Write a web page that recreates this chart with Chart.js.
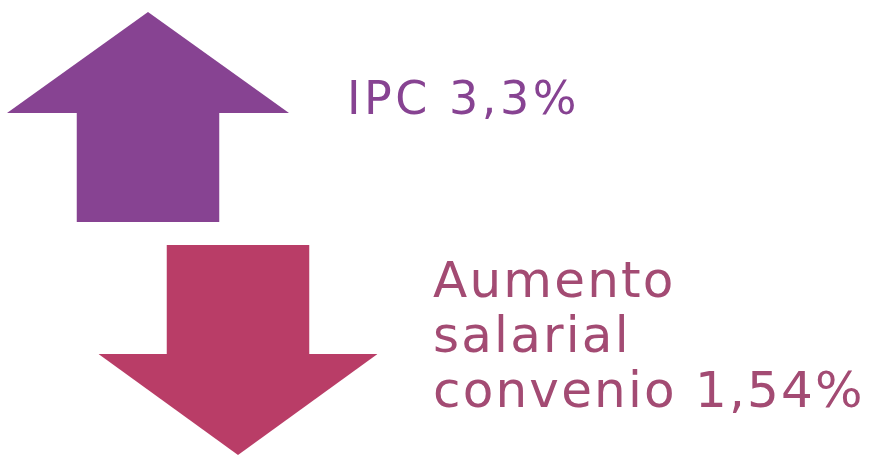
<!DOCTYPE html>
<html>
<head>
<meta charset="utf-8">
<script src="https://cdn.jsdelivr.net/npm/chart.js@4/dist/chart.umd.min.js"></script>
<style>
  html, body { margin: 0; padding: 0; background: #fff; }
  #wrap { width: 869px; height: 455px; position: relative; }
</style>
</head>
<body>
<div id="wrap"><canvas id="chart"></canvas></div>
<script>
// datos
const labels = ['IPC 3,3%', 'Aumento salarial convenio 1,54%'];
const labelLines = [['IPC 3,3%'], ['Aumento', 'salarial', 'convenio 1,54%']];
const values = [3.3, 1.54];
const directions = ['up', 'down'];
const arrowColors = ['#874392', '#b93d67'];
const textColors = ['#874392', '#a34b73'];

// posición de cada flecha (unidades de la escala = px del lienzo)
const arrowLayout = [
  { cx: 148, tip: 12, headBase: 113, end: 222, headHalf: 141, shaftHalf: 71.5 },
  { cx: 238, tip: 455, headBase: 354, end: 245, headHalf: 139.5, shaftHalf: 71.5 }
];
const textLayout = [
  { x: 347, baselines: [114], size: 46, spacing: 3.5 },
  { x: 433, baselines: [297, 352, 407], size: 50, spacing: 2.2 }
];

/**
 * Cada flecha = triángulo (cabeza) + rectángulo (cuerpo), rellenos hasta la base de la cabeza
 */
function arrowDatasets(i) {
  const a = arrowLayout[i];
  const common = {
    showLine: true,
    borderWidth: 0,
    pointRadius: 0,
    backgroundColor: arrowColors[i],
    borderColor: arrowColors[i],
    fill: { value: a.headBase },
    label: labels[i]
  };
  return [
    { ...common, data: [
      { x: a.cx - a.headHalf, y: a.headBase },
      { x: a.cx, y: a.tip },
      { x: a.cx + a.headHalf, y: a.headBase }
    ] },
    { ...common, data: [
      { x: a.cx - a.shaftHalf, y: a.end },
      { x: a.cx + a.shaftHalf, y: a.end }
    ] }
  ];
}

const labelPlugin = {
  id: 'labelPlugin',
  afterDraw(chart) {
    const { ctx, scales } = chart;
    labelLines.forEach((lines, i) => {
      const t = textLayout[i];
      ctx.save();
      ctx.fillStyle = textColors[i];
      ctx.font = t.size + 'px "DejaVu Sans"';
      ctx.letterSpacing = t.spacing + 'px';
      ctx.textBaseline = 'alphabetic';
      ctx.textAlign = 'left';
      lines.forEach((line, j) => {
        ctx.fillText(line, scales.x.getPixelForValue(t.x), scales.y.getPixelForValue(t.baselines[j]));
      });
      ctx.restore();
    });
  }
};

new Chart(document.getElementById('chart'), {
  type: 'scatter',
  data: {
    datasets: [...arrowDatasets(0), ...arrowDatasets(1)]
  },
  options: {
    responsive: true,
    maintainAspectRatio: false,
    animation: false,
    layout: { padding: 0 },
    plugins: {
      legend: { display: false },
      tooltip: { enabled: false }
    },
    scales: {
      x: { type: 'linear', min: 0, max: 869, display: false },
      y: { type: 'linear', min: 0, max: 455, reverse: true, display: false }
    }
  },
  plugins: [labelPlugin]
});
</script>
</body>
</html>
